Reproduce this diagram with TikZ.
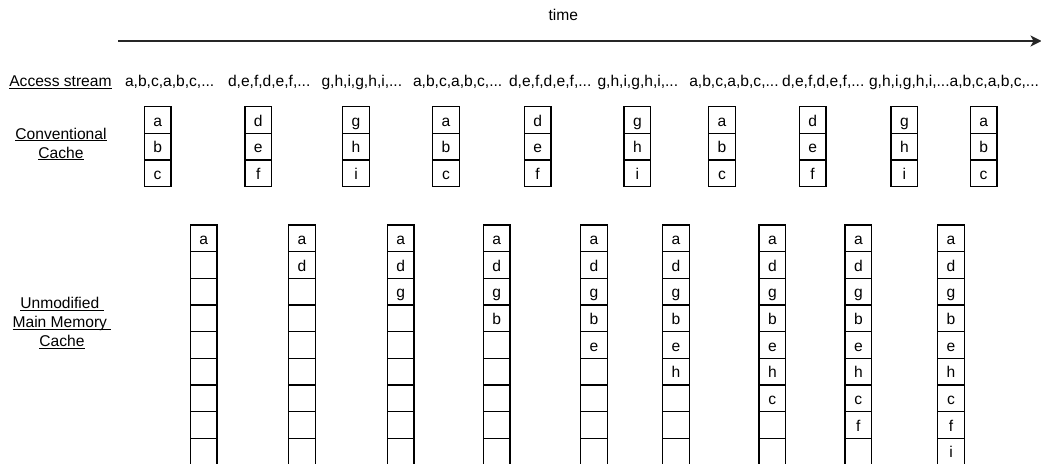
\documentclass[tikz,border=0pt]{standalone}
\usepackage{fontspec}
\setmainfont{Liberation Sans}
\usetikzlibrary{arrows.meta}
\newcommand\myul[1]{\setbox0\hbox{#1}\rlap{\rule[-2.2pt]{\wd0}{1.1pt}}\box0}
\tikzset{
  every node/.style={font=\fontsize{15.6}{19.2}\selectfont, inner sep=0pt, outer sep=0pt},
  cell/.style={draw=black, line width=1.2pt, minimum width=26.67pt, minimum height=26.67pt,
               text height=12.5pt, text depth=0pt},
  stream/.style={anchor=base west},
  lbl/.style={align=center, anchor=base},
  timearrow/.style={draw=black!85, line width=1.3pt, -{Stealth[length=11pt,width=11pt,inset=3pt]}}
}
\begin{document}
\begin{tikzpicture}[x=1pt,y=-1pt]
\useasboundingbox (0,0) rectangle (1041,463);
% time axis
\coordinate (tstart) at (118.3,41);
\coordinate (tend) at (1041.5,41);
\draw[timearrow] (tstart) -- (tend);
\node (time) at (563.3,15) {time};
% labels
\node[anchor=base west] (access) at (9.3,86.5) {\myul{Access stream}};
\node[lbl] (conv) at (61,158.2) {\myul{Conventional}\\\myul{Cache}};
\node[lbl] (umm) at (62,346.9) {\myul{Unmodified\ }\\\myul{Main Memory\ }\\\myul{Cache}};
% access stream segments
\node[stream] (s1) at (125,86.5) {a,b,c,a,b,c,...};
\node[stream] (s2) at (228,86.5) {d,e,f,d,e,f,...};
\node[stream] (s3) at (321.5,86.5) {g,h,i,g,h,i,...};
\node[stream] (s4) at (413,86.5) {a,b,c,a,b,c,...};
\node[stream] (s5) at (509,86.5) {d,e,f,d,e,f,...};
\node[stream] (s6) at (597.5,86.5) {g,h,i,g,h,i,...};
\node[stream] (s7) at (689.3,86.5) {a,b,c,a,b,c,...};
\node[stream] (s8) at (782,86.5) {d,e,f,d,e,f,...};
\node[stream] (s9) at (869,86.5) {g,h,i,g,h,i,...a,b,c,a,b,c,...};
% conventional cache columns
\foreach \x/\p/\q/\r [count=\i] in {144.3/a/b/c, 245/d/e/f, 342.7/g/h/i, 432.7/a/b/c,
   524.3/d/e/f, 624/g/h/i, 708.7/a/b/c, 799.3/d/e/f, 891/g/h/i, 970.3/a/b/c}{
  \node[cell] (cc\i-1) at (\x+13.33,106.7+13.33) {\p};
  \node[cell] (cc\i-2) at (\x+13.33,133.37+13.33) {\q};
  \node[cell] (cc\i-3) at (\x+13.33,160.03+13.33) {\r};
}
% unmodified main memory cache columns
\def\items{{"a","d","g","b","e","h","c","f","i"}}
\foreach \x [count=\i] in {190.3, 288.7, 387.3, 483.3, 580.7, 662.7, 759, 845, 937.7}{
  \foreach \k in {1,...,9}{
    \pgfmathsetmacro\filled{\k<=\i ? 1 : 0}
    \pgfmathparse{\items[\k-1]}\let\lett\pgfmathresult
    \ifdim\filled pt>0.5pt
      \node[cell] (mm\i-\k) at (\x+13.33,225+13.33+26.67*\k-26.67) {\lett};
    \else
      \node[cell] (mm\i-\k) at (\x+13.33,225+13.33+26.67*\k-26.67) {};
    \fi
  }
}
\end{tikzpicture}
\end{document}
